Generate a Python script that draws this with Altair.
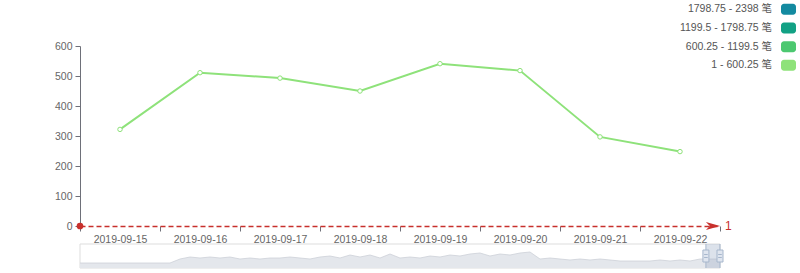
import altair as alt
import pandas as pd

# ---------------- data ----------------
dates = ["2019-09-15", "2019-09-16", "2019-09-17", "2019-09-18",
         "2019-09-19", "2019-09-20", "2019-09-21", "2019-09-22"]
counts = [322, 511, 493, 450, 541, 518, 297, 248]

piece_labels = ["1798.75 - 2398 笔", "1199.5 - 1798.75 笔",
                "600.25 - 1199.5 笔", "1 - 600.25 笔"]
piece_colors = ["#138aa0", "#12a184", "#4cc870", "#8ee27a"]

# overview series shown in the dataZoom slider
overview = [5, 5, 5, 5, 5, 5, 5, 5, 5, 5,
            9, 11, 10, 11, 10, 11, 9, 10, 9, 10,
            10, 11, 10, 9, 11, 12, 10, 13, 11, 13,
            10, 14, 10, 11, 10, 12, 11, 13, 12, 14,
            15, 12, 14, 13, 15, 16, 9, 10, 9, 8,
            9, 8, 9, 8, 7, 7, 7, 7, 8, 7,
            8, 7, 9, 9, 9]
zoom_start = 97.8
zoom_end = 100.0

# ---------------- style ----------------
FONT = "Liberation Sans, Noto Sans CJK SC, sans-serif"
RED = "#c8302c"
LINE = piece_colors[3]
GRAY_AX = "#6e7079"
GRAY_TXT = "#666666"

main_df = pd.DataFrame({"date": dates, "count": counts})
origin = pd.DataFrame({"count": [0]})
one = pd.DataFrame({"a": [0]})

x_enc = alt.X(
    "date:N", sort=dates, bandPosition=0.5,
    scale=alt.Scale(type="band", domain=dates, paddingInner=0, paddingOuter=0),
    axis=alt.Axis(title=None, labelAngle=0, tickBand="extent",
                  domainColor=RED, domainDash=[5, 3], domainWidth=1.5,
                  tickColor=GRAY_AX, tickSize=5, labelColor=GRAY_TXT,
                  labelFontSize=10.5, labelPadding=3, labelFont=FONT, grid=False,
                  labelOverlap=False))
y_enc = alt.Y(
    "count:Q", scale=alt.Scale(domain=[0, 600], nice=False),
    axis=alt.Axis(title=None, values=[0, 100, 200, 300, 400, 500, 600], grid=False,
                  domainColor=GRAY_AX, tickColor=GRAY_AX, tickSize=5,
                  labelColor=GRAY_TXT, labelFontSize=10.5, labelPadding=3,
                  labelFont=FONT, labelOverlap=False, labelFlush=False))

base = alt.Chart(main_df)
line = base.mark_line(color=LINE, strokeWidth=2).encode(x=x_enc, y=y_enc)
pts = base.mark_point(shape="circle", filled=True, fill="white", stroke=LINE,
                      strokeWidth=1, size=20, opacity=1).encode(x=x_enc, y=y_enc)
dot = alt.Chart(origin).mark_point(shape="circle", filled=True, color=RED, size=45,
                                   opacity=1).encode(x=alt.value(0), y=y_enc)
arrow = alt.Chart(origin).mark_point(shape="M-1,-0.55L1,0L-1,0.55L-0.45,0Z", filled=True,
                                     color=RED, size=200, opacity=1).encode(
    x=alt.value(633), y=y_enc)
axis_name = alt.Chart(origin).mark_text(text="1", align="left", baseline="middle",
                                        color=RED, fontSize=12, font=FONT).encode(
    x=alt.value(645), y=y_enc)
main_layer = alt.layer(line, pts, dot, arrow, axis_name)

# ---------------- legend (visualMap pieces) ----------------
leg_df = pd.DataFrame({"label": piece_labels, "color": piece_colors})
leg_scale = alt.Scale(type="band", domain=piece_labels, range=[-46, 28.7],
                      paddingInner=0.41, paddingOuter=0.205)
leg_color = alt.Color("label:N", scale=alt.Scale(domain=piece_labels, range=piece_colors),
                      legend=None)
leg_rect = alt.Chart(leg_df).mark_rect(cornerRadius=3).encode(
    x=alt.value(701), x2=alt.value(716),
    y=alt.Y("label:N", sort=piece_labels, scale=leg_scale, axis=None),
    color=leg_color)
leg_text = alt.Chart(leg_df).mark_text(align="right", baseline="middle", fontSize=10.5,
                                       color="#555555", font=FONT).encode(
    x=alt.value(692),
    y=alt.Y("label:N", sort=piece_labels, bandPosition=0.5, scale=leg_scale, axis=None),
    text="label:N")
legend_layer = alt.layer(leg_rect, leg_text)

# ---------------- dataZoom slider ----------------
ov_df = pd.DataFrame({"idx": list(range(len(overview))), "v": overview})
ov_area = alt.Chart(ov_df).mark_area(
    color="#e4e7ec", opacity=1,
    line={"color": "#cdd1d8", "strokeWidth": 0.8}).encode(
    x=alt.X("idx:Q", scale=alt.Scale(domain=[0, len(overview) - 1], range=[0, 640],
                                     nice=False, zero=False), axis=None),
    y=alt.Y("v:Q", scale=alt.Scale(domain=[0, 24], range=[222, 198], nice=False),
            axis=None))
box = alt.Chart(one).mark_rect(fill="transparent", stroke="#dddddd", strokeWidth=1).encode(
    x=alt.value(0), x2=alt.value(640), y=alt.value(198), y2=alt.value(222))
overview_layer = alt.layer(box, ov_area)

pct_scale = alt.Scale(domain=[0, 100], range=[0, 640], nice=False, zero=False)
win_df = pd.DataFrame({"start": [zoom_start], "end": [zoom_end]})
edge_df = pd.DataFrame({"edge": [zoom_start, zoom_end]})
window = alt.Chart(win_df).mark_rect(fill="#a7b7cc", opacity=0.4).encode(
    x=alt.X("start:Q", scale=pct_scale, axis=None), x2="end:Q",
    y=alt.value(198), y2=alt.value(222))
edges = alt.Chart(edge_df).mark_rule(color="#a7b7cc", strokeWidth=1).encode(
    x=alt.X("edge:Q", scale=pct_scale, axis=None),
    y=alt.value(198), y2=alt.value(222))
handles = alt.Chart(edge_df).mark_point(
    shape="M-0.5,-1H0.5V1H-0.5Z M-0.3,-0.25H0.3 M-0.3,0.25H0.3",
    filled=True, fill="#dfe5ef", stroke="#a7b7cc", strokeWidth=1, size=144,
    opacity=1).encode(
    x=alt.X("edge:Q", scale=pct_scale, axis=None), y=alt.value(210))
window_layer = alt.layer(window, edges, handles)

chart = alt.layer(main_layer, legend_layer, overview_layer, window_layer).resolve_scale(
    x="independent", y="independent", color="independent"
).properties(
    width=640, height=180,
    autosize=alt.AutoSizeParams(type="none"),
    padding={"left": 80, "top": 46, "right": 80, "bottom": 47},
    background="white",
).configure(font=FONT, view=alt.ViewConfig(stroke=None))

chart.save("out.html", embed_options={"renderer": "svg", "actions": False})
